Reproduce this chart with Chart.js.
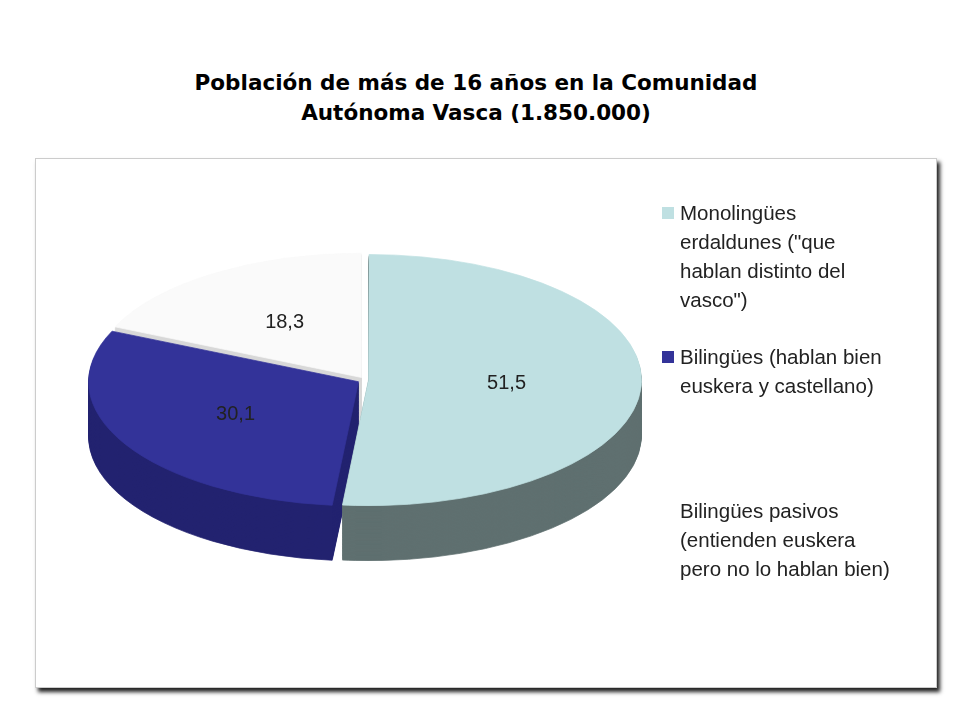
<!DOCTYPE html>
<html>
<head>
<meta charset="utf-8">
<script src="https://cdn.jsdelivr.net/npm/chart.js@4"></script>
<style>
  body { margin: 0; background: #fff; font-family: "Liberation Sans", Arial, sans-serif; }
  #wrap { position: relative; width: 960px; height: 720px; }
  #frame { position: absolute; left: 35px; top: 158px; width: 900px; height: 528px;
           border: 1px solid #ccc; box-shadow: 3px 4px 4px #222; background: #fff; }
  #title { position: absolute; left: 0; top: 68px; width: 952px; text-align: center;
           font-weight: bold; font-size: 21.5px; line-height: 30px; color: #000; font-family: "DejaVu Sans", Verdana, sans-serif; }
  canvas { position: absolute; left: 0; top: 0; }
  #legend { position: absolute; left: 662px; top: 198px; font-size: 20.5px; line-height: 29px; color: #222; }
  .item { position: relative; padding-left: 18px; margin-bottom: 28px; }
  .box { position: absolute; left: 0; top: 9px; width: 12px; height: 12px; }
</style>
</head>
<body>
<div id="wrap">
  <div id="frame"></div>
  <div id="title">Población de más de 16 años en la Comunidad<br>Autónoma Vasca (1.850.000)</div>
  <canvas id="pie" width="960" height="720"></canvas>
  <div id="legend"></div>
</div>
<script>
const categories = [
    ['Monolingües', 'erdaldunes ("que', 'hablan distinto del', 'vasco")'],
    ['Bilingües (hablan bien', 'euskera y castellano)'],
    ['Bilingües pasivos', '(entienden euskera', 'pero no lo hablan bien)']
];
const values = [51.5, 30.1, 18.3];
const colors = ['#bfe0e2', '#333399', '#fafafa'];
const sideColors = ['#5f7070', '#232370', '#d8d8d8'];
const offsets = [14, 30, 26];

const SQUASH = 0.46;
const DEPTH = 55;

// legend
const legend = document.getElementById('legend');
categories.forEach((lines, i) => {
    const div = document.createElement('div');
    div.className = 'item';
    div.innerHTML = `<span class="box" style="background:${i === 2 ? '#fff' : colors[i]}"></span>` + lines.join('<br>');
    if (i === 1) div.style.marginBottom = '96px';
    legend.appendChild(div);
});

const tilt = {
    id: 'tilt',
    beforeDatasetsDraw(chart) {
        const ctx = chart.ctx;
        const arcs = chart.getDatasetMeta(0).data;
        const cy = arcs[0].y;
        ctx.save();
        ctx.translate(0, cy);
        ctx.scale(1, SQUASH);
        ctx.translate(0, -cy);
        const steps = 40;
        for (let s = steps; s >= 1; s--) {
            ctx.save();
            ctx.translate(0, (DEPTH / SQUASH) * s / steps);
            arcs.forEach((el, i) => {
                const o = el.options;
                const bg = o.backgroundColor, bc = o.borderColor;
                o.backgroundColor = sideColors[i];
                o.borderColor = sideColors[i];
                el.draw(ctx);
                o.backgroundColor = bg;
                o.borderColor = bc;
            });
            ctx.restore();
        }
    },
    afterDatasetsDraw(chart) {
        const ctx = chart.ctx;
        ctx.restore();
        const arcs = chart.getDatasetMeta(0).data;
        const cy = arcs[0].y;
        ctx.save();
        ctx.font = '20px "Liberation Sans", Arial, sans-serif';
        ctx.fillStyle = '#222';
        ctx.textAlign = 'center';
        ctx.textBaseline = 'middle';
        arcs.forEach((el, i) => {
            const p = el.tooltipPosition();
            ctx.fillText(values[i].toFixed(1).replace('.', ','), p.x, cy + (p.y - cy) * SQUASH);
        });
        ctx.restore();
    }
};

new Chart(document.getElementById('pie').getContext('2d'), {
    type: 'pie',
    data: {
        labels: categories.map(c => c.join(' ')),
        datasets: [{
            data: values,
            backgroundColor: colors,
            borderColor: colors,
            borderWidth: 1,
            offset: offsets
        }]
    },
    options: {
        responsive: false,
        animation: false,
        layout: { padding: { left: 80, right: 310, top: 95, bottom: 55 } },
        plugins: { legend: { display: false }, tooltip: { enabled: false } }
    },
    plugins: [tilt]
});
</script>
</body>
</html>
